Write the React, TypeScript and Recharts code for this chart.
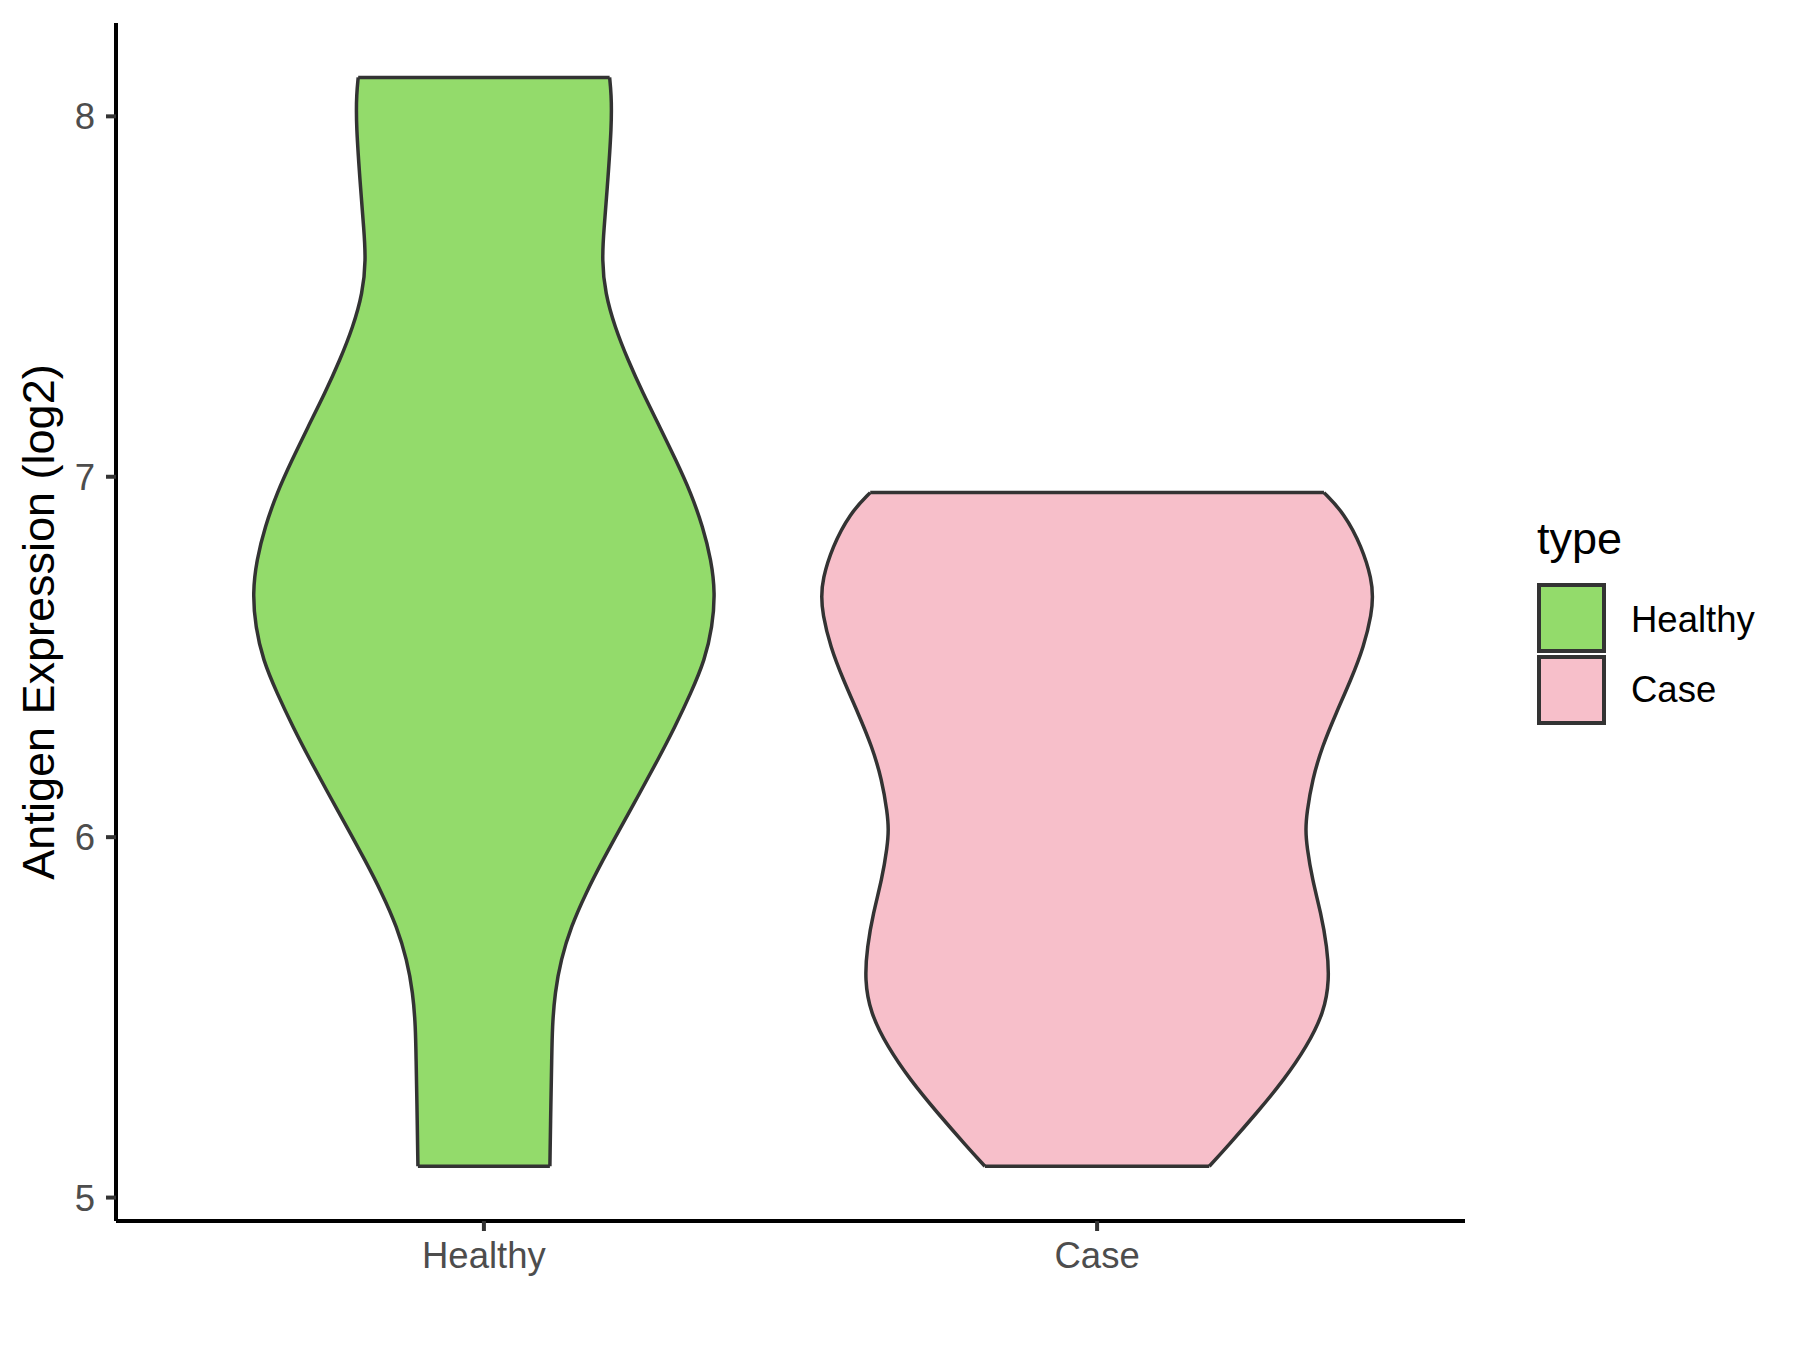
import { Area, ComposedChart, Legend, Line, XAxis, YAxis } from 'recharts';

const categories = ['Healthy', 'Case'];
const categoryPositions = [1, 2];
const yTicks = [5, 6, 7, 8];

// violin outlines: expression level and half width (category units)
const healthyLevels = [
  5.087, 5.272, 5.382, 5.474, 5.569, 5.66, 5.751, 5.845, 5.937, 6.028, 6.123, 6.215, 6.306, 6.4, 6.492,
  6.583, 6.678, 6.769, 6.861, 6.955, 7.046, 7.138, 7.232, 7.324, 7.415, 7.509, 7.601, 7.692, 7.787, 7.981,
  8.064, 8.108,
];
const healthyHalfWidth = [
  0.1076, 0.1093, 0.1106, 0.1115, 0.1158, 0.1256, 0.1419, 0.1663, 0.1941, 0.2234, 0.2544, 0.2838, 0.3115,
  0.3376, 0.3604, 0.3725, 0.3772, 0.3707, 0.3571, 0.3376, 0.3131, 0.287, 0.2593, 0.2348, 0.2136, 0.1978,
  0.1924, 0.196, 0.2006, 0.2087, 0.2076, 0.205,
];

const caseLevels = [
  5.087, 5.141, 5.236, 5.327, 5.419, 5.513, 5.604, 5.696, 5.79, 5.882, 5.974, 6.021, 6.068, 6.16, 6.251,
  6.345, 6.437, 6.528, 6.622, 6.667, 6.714, 6.805, 6.899, 6.956,
];
const caseHalfWidth = [
  0.183, 0.212, 0.261, 0.305, 0.342, 0.37, 0.379, 0.375, 0.365, 0.351, 0.342, 0.34, 0.342, 0.351, 0.367,
  0.39, 0.414, 0.435, 0.448, 0.4495, 0.448, 0.432, 0.403, 0.37,
];

const fills = ['#93DB6B', '#F7BFCA'];
const outline = '#333333';
const font = '"Liberation Sans", Arial, Helvetica, sans-serif';

const toRows = (levels: number[], half: number[], center: number) =>
  levels.map((y, i) => ({ y, span: [center - half[i], center + half[i]] }));

const toCaps = (levels: number[], half: number[], center: number) =>
  [0, levels.length - 1].map((i) => [
    { y: levels[i], x: center - half[i] },
    { y: levels[i], x: center + half[i] },
  ]);

const violins = [
  {
    name: categories[0],
    fill: fills[0],
    rows: toRows(healthyLevels, healthyHalfWidth, categoryPositions[0]),
    caps: toCaps(healthyLevels, healthyHalfWidth, categoryPositions[0]),
  },
  {
    name: categories[1],
    fill: fills[1],
    rows: toRows(caseLevels, caseHalfWidth, categoryPositions[1]),
    caps: toCaps(caseLevels, caseHalfWidth, categoryPositions[1]),
  },
];

const YTitle = (props: any) => {
  const vb = props.viewBox;
  const cy = vb.y + vb.height / 2;
  return (
    <text
      x={54}
      y={cy}
      transform={`rotate(-90, 54, ${cy})`}
      textAnchor="middle"
      fontSize={45}
      fontFamily={font}
      fill="#000000"
    >
      Antigen Expression (log2)
    </text>
  );
};

const LegendBox = () => (
  <svg width={260} height={240} style={{ display: 'block' }}>
    <text x={0} y={54} fontSize={45} fontFamily={font} fill="#000000">
      type
    </text>
    {categories.map((c, i) => (
      <g key={c}>
        <rect x={2} y={85 + i * 72} width={65} height={66} fill={fills[i]} stroke={outline} strokeWidth={4} />
        <text x={94} y={132 + i * 70} fontSize={36.5} fontFamily={font} fill="#000000">
          {c}
        </text>
      </g>
    ))}
  </svg>
);

export default function App() {
  return (
    <div style={{ position: 'absolute', left: 0, top: 0, width: 1800, height: 1350, background: '#ffffff' }}>
      <ComposedChart
        width={1800}
        height={1350}
        layout="vertical"
        margin={{ top: 23, right: 335, bottom: 0, left: 0 }}
      >
        <XAxis
          type="number"
          domain={[0.4, 2.6]}
          allowDataOverflow
          ticks={categoryPositions}
          interval={0}
          tickFormatter={(v: number) => categories[categoryPositions.indexOf(v)] ?? ''}
          height={129}
          axisLine={{ stroke: '#000000', strokeWidth: 4 }}
          tickLine={{ stroke: outline, strokeWidth: 4 }}
          tickSize={10}
          tickMargin={11}
          tick={{ fill: '#4D4D4D', fontSize: 36.5, fontFamily: font }}
        />
        <YAxis
          type="number"
          dataKey="y"
          domain={[4.935, 8.259]}
          allowDataOverflow
          reversed
          ticks={yTicks}
          interval={0}
          width={116}
          axisLine={{ stroke: '#000000', strokeWidth: 4 }}
          tickLine={{ stroke: outline, strokeWidth: 4 }}
          tickSize={10}
          tickMargin={11}
          tick={{ fill: '#4D4D4D', fontSize: 36.5, fontFamily: font }}
          label={{ value: 'Antigen Expression (log2)', content: YTitle }}
        />
        {violins.map((v) => (
          <Area
            key={v.name}
            name={v.name}
            data={v.rows}
            dataKey="span"
            type="basis"
            fill={v.fill}
            fillOpacity={1}
            stroke={outline}
            strokeWidth={3.5}
            isAnimationActive={false}
          />
        ))}
        {violins.flatMap((v) =>
          v.caps.map((cap, j) => (
            <Line
              key={`${v.name}-cap-${j}`}
              data={cap}
              dataKey="x"
              type="linear"
              stroke={outline}
              strokeWidth={3.5}
              dot={false}
              legendType="none"
              isAnimationActive={false}
            />
          )),
        )}
        <Legend
          layout="vertical"
          align="center"
          verticalAlign="middle"
          wrapperStyle={{ left: 1537, top: 500, width: 260, height: 240 }}
          content={() => <LegendBox />}
        />
      </ComposedChart>
    </div>
  );
}
